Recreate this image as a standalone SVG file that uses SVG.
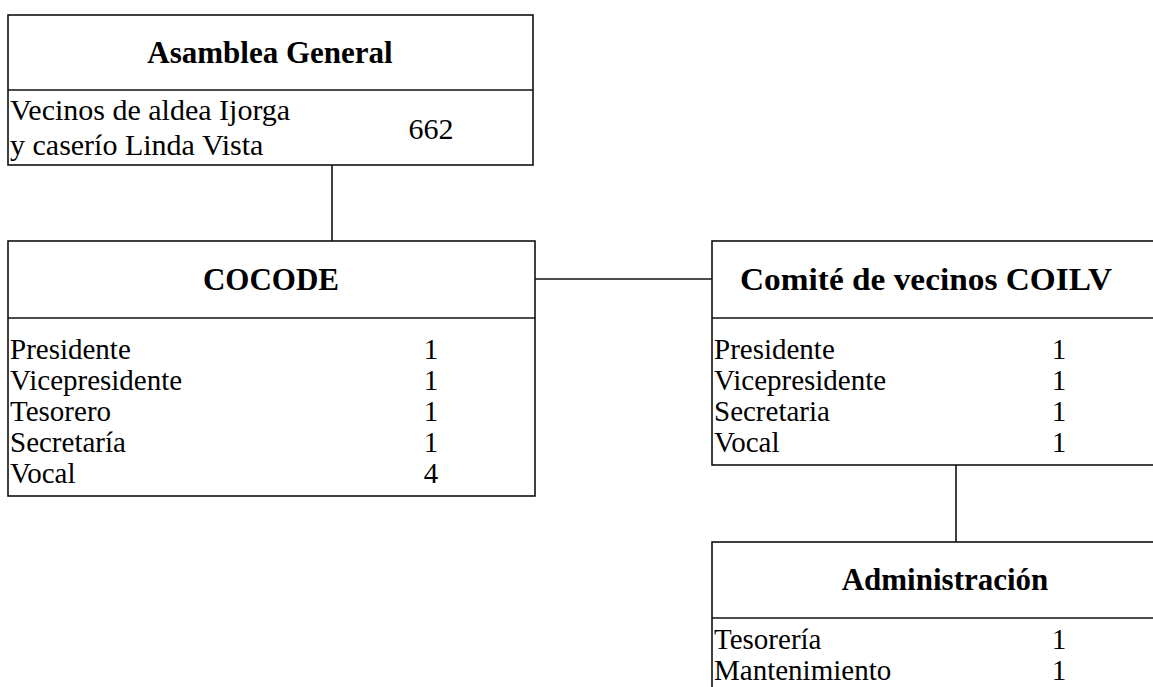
<svg xmlns="http://www.w3.org/2000/svg" width="1153" height="687" viewBox="0 0 1153 687">
<style>
.box{fill:#fff;stroke:#111;stroke-width:1.6}
.ln{stroke:#111;stroke-width:1.6;fill:none}
.t{font-family:"Liberation Serif","Times New Roman",serif;font-size:31px;font-weight:bold;fill:#000;text-anchor:middle}
.b{font-family:"Liberation Serif","Times New Roman",serif;font-size:29px;fill:#000}
.n{font-family:"Liberation Serif","Times New Roman",serif;font-size:29px;fill:#000;text-anchor:middle}
</style>
<rect width="1153" height="687" fill="#fff"/>
<g id="connectors">
<line class="ln" x1="332" y1="165" x2="332" y2="241"/>
<line class="ln" x1="535" y1="279" x2="712" y2="279"/>
<line class="ln" x1="956" y1="465" x2="956" y2="542"/>
</g>
<g id="asamblea">
<rect class="box" x="8" y="15" width="525" height="150"/>
<line class="ln" x1="8" y1="90" x2="533" y2="90"/>
<text class="t" x="270" y="63">Asamblea General</text>
<text class="b" x="10" y="120" style="font-size:30px">Vecinos de aldea Ijorga</text>
<text class="b" x="10" y="155" style="font-size:30px">y caserío Linda Vista</text>
<text class="n" x="431" y="139" style="font-size:30px">662</text>
</g>
<g id="cocode">
<rect class="box" x="8" y="241" width="527" height="255"/>
<line class="ln" x1="8" y1="318" x2="535" y2="318"/>
<text class="t" x="271" y="290">COCODE</text>
<text class="b" x="10" y="359">Presidente</text>
<text class="b" x="10" y="390">Vicepresidente</text>
<text class="b" x="10" y="421">Tesorero</text>
<text class="b" x="10" y="452">Secretaría</text>
<text class="b" x="10" y="483">Vocal</text>
<text class="n" x="431" y="359">1</text>
<text class="n" x="431" y="390">1</text>
<text class="n" x="431" y="421">1</text>
<text class="n" x="431" y="452">1</text>
<text class="n" x="431" y="483">4</text>
</g>
<g id="comite">
<rect class="box" x="712" y="241" width="460" height="224"/>
<line class="ln" x1="712" y1="318" x2="1172" y2="318"/>
<text class="t" x="926" y="290" textLength="372" lengthAdjust="spacingAndGlyphs">Comité de vecinos COILV</text>
<text class="b" x="714" y="359">Presidente</text>
<text class="b" x="714" y="390">Vicepresidente</text>
<text class="b" x="714" y="421">Secretaria</text>
<text class="b" x="714" y="452">Vocal</text>
<text class="n" x="1059" y="359">1</text>
<text class="n" x="1059" y="390">1</text>
<text class="n" x="1059" y="421">1</text>
<text class="n" x="1059" y="452">1</text>
</g>
<g id="administracion">
<rect class="box" x="712" y="542" width="460" height="170"/>
<line class="ln" x1="712" y1="618" x2="1172" y2="618"/>
<text class="t" x="945" y="590">Administración</text>
<text class="b" x="714" y="649">Tesorería</text>
<text class="b" x="714" y="680">Mantenimiento</text>
<text class="n" x="1059" y="649">1</text>
<text class="n" x="1059" y="680">1</text>
</g>
</svg>
